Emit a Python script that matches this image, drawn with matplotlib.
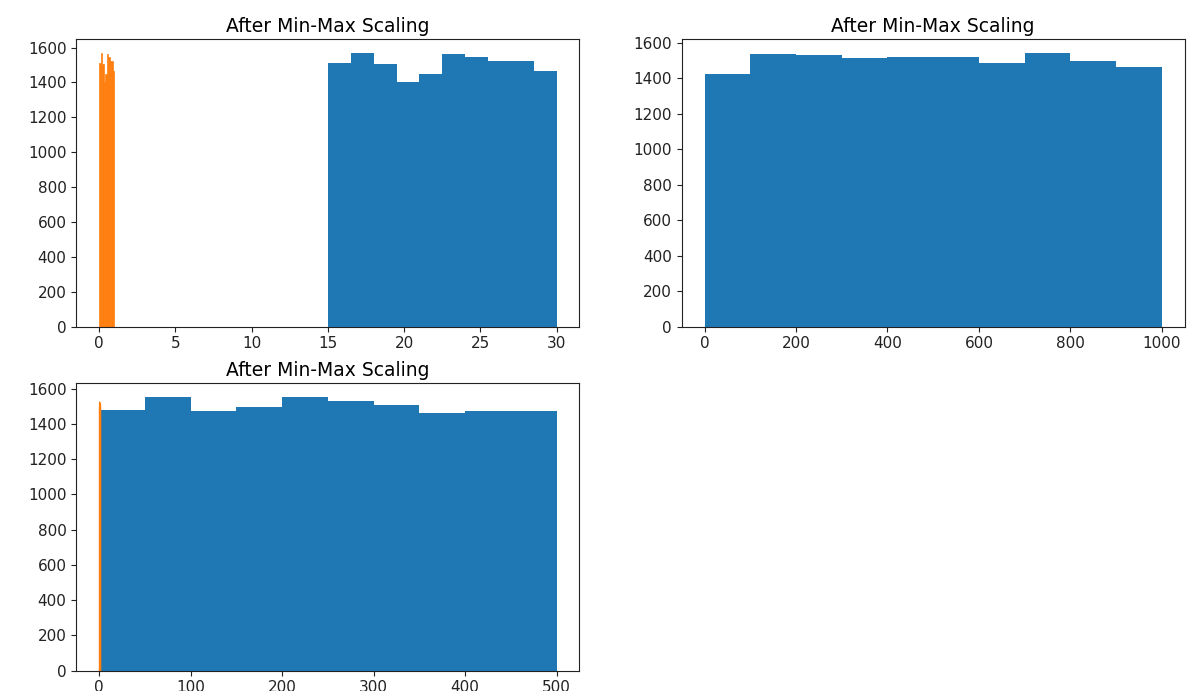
import numpy as np
import matplotlib
matplotlib.use("Agg")
import matplotlib.pyplot as plt

# ---- data (histogram counts) ----
title = "After Min-Max Scaling"

# subplot 1: original feature on [15, 30], scaled copy on [0, 1]
blue1_range = (15, 30)
blue1_counts = [1514, 1571, 1505, 1405, 1447, 1564, 1548, 1522, 1522, 1464]
orange1_range = (0, 1)
orange1_counts = [1514, 1571, 1505, 1405, 1447, 1564, 1548, 1522, 1522, 1464]

# subplot 2: feature on [0, 1000]
blue2_range = (0, 1000)
blue2_counts = [1422, 1538, 1529, 1512, 1521, 1521, 1487, 1544, 1495, 1465]

# subplot 3: feature on [0, 500], scaled copy on [0, 1]
blue3_range = (0, 500)
blue3_counts = [1480, 1554, 1472, 1495, 1554, 1532, 1509, 1465, 1471, 1471]
orange3_range = (0, 1)
orange3_counts = [1530, 1510, 1490, 1500, 1525, 1480, 1505, 1495, 1515, 1470]

N_BINS = 10

plt.rcParams["xtick.labelsize"] = 11
plt.rcParams["ytick.labelsize"] = 11
plt.rcParams["axes.titlesize"] = 13.5
plt.rcParams["xtick.color"] = "#222222"
plt.rcParams["ytick.color"] = "#222222"
plt.rcParams["axes.edgecolor"] = "#222222"


def draw_hist(ax, rng, counts, color, lw=0.0):
    edges = np.linspace(rng[0], rng[1], N_BINS + 1)
    ax.hist(edges[:-1], bins=edges, weights=counts, color=color,
            edgecolor=color if lw > 0 else None, linewidth=lw,
            joinstyle="bevel")


fig, axes = plt.subplots(2, 2, figsize=(11.92, 6.91), dpi=100)
fig.subplots_adjust(left=0.064, right=0.994, bottom=0.0294, top=0.9436,
                    wspace=0.203, hspace=0.197)

ax1, ax2, ax3, ax4 = axes[0, 0], axes[0, 1], axes[1, 0], axes[1, 1]

draw_hist(ax1, blue1_range, blue1_counts, "C0")
draw_hist(ax1, orange1_range, orange1_counts, "C1", lw=0.5)
ax1.set_title(title, pad=5)

draw_hist(ax2, blue2_range, blue2_counts, "C0")
ax2.set_title(title, pad=5)

draw_hist(ax3, blue3_range, blue3_counts, "C0")
draw_hist(ax3, orange3_range, orange3_counts, "C1", lw=0.8)
ax3.set_title(title, pad=5)

ax4.axis("off")

fig.savefig("out.png", dpi=100)
